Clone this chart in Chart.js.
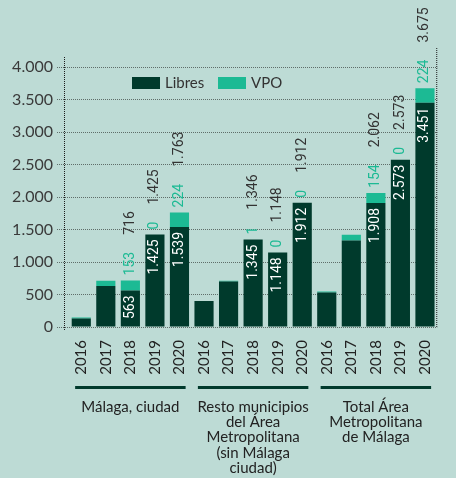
<!DOCTYPE html>
<html>
<head>
<meta charset="utf-8">
<script src="https://cdn.jsdelivr.net/npm/chart.js@4.4.0/dist/chart.umd.min.js"></script>
<style>
  html, body { margin: 0; background: #bddbd5; }
  canvas { display: block; }
</style>
</head>
<body>
<canvas id="chartViv" width="456" height="478"></canvas>
<script>
const years = ['2016', '2017', '2018', '2019', '2020']
const groups = [
  ['Málaga, ciudad'],
  ['Resto municipios', 'del Área', 'Metropolitana', '(sin Málaga', 'ciudad)'],
  ['Total Área', 'Metropolitana', 'de Málaga'],
]
const categories = groups.flatMap(() => years)
const libres = [130, 630, 563, 1425, 1539,   400, 700, 1345, 1148, 1912,   530, 1330, 1908, 2573, 3451]
const vpo    = [ 15,  80, 153,    0,  224,     0,  10,    1,    0,    0,    15,   90,  154,    0,  224]
const labeledYears = ['2018', '2019', '2020']
const seriesNames = ['Libres', 'VPO']

const C_LIB = '#003a2c'
const C_VPO = '#1cba94'
const C_TXT = '#333333'
const fmt = n => String(n).replace(/\B(?=(\d{3})+(?!\d))/g, '.')

function rotText(ctx, x, y, txt, align, color) {
  ctx.save()
  ctx.translate(x, y)
  ctx.rotate(-Math.PI / 2)
  ctx.textAlign = align
  ctx.textBaseline = 'middle'
  ctx.fillStyle = color
  ctx.fillText(txt, 0, 0)
  ctx.restore()
}

const extras = {
  id: 'extras',
  beforeDatasetsDraw(chart) {
    const { ctx, chartArea: a } = chart
    ctx.save()
    ctx.strokeStyle = '#1a1a1a'; ctx.lineWidth = 1; ctx.setLineDash([1, 1])
    ctx.beginPath(); ctx.moveTo(a.left - 4.5, a.top - 10); ctx.lineTo(a.left - 4.5, a.bottom + 3); ctx.stroke()
    ctx.beginPath(); ctx.moveTo(a.right - 0.5, a.top - 19); ctx.lineTo(a.right - 0.5, a.bottom); ctx.stroke()
    ctx.restore()
  },
  afterDatasetsDraw(chart) {
    const { ctx, chartArea: a } = chart
    const xs = chart.scales.x, ys = chart.scales.y

    // etiquetas de valores
    ctx.save()
    ctx.font = '14px Roboto'
    categories.forEach((yr, i) => {
      if (!labeledYears.includes(yr)) return
      const x = xs.getPixelForValue(i)
      const yLib = ys.getPixelForValue(libres[i])
      const yTot = ys.getPixelForValue(libres[i] + vpo[i])
      rotText(ctx, x, yLib + 5, fmt(libres[i]), 'right', '#ffffff')
      const vw = ctx.measureText(fmt(vpo[i])).width
      rotText(ctx, x, yTot - 5, fmt(vpo[i]), 'left', C_VPO)
      rotText(ctx, x, yTot - 5 - vw - 17, fmt(libres[i] + vpo[i]), 'left', C_TXT)
    })
    ctx.restore()

    // líneas de grupo
    const w = xs.getPixelForValue(1) - xs.getPixelForValue(0)
    ctx.save()
    ctx.fillStyle = C_LIB
    groups.forEach((g, gi) => {
      const x0 = xs.getPixelForValue(gi * 5) - w * 0.25
      const x1 = xs.getPixelForValue(gi * 5 + 4) + w * 0.25
      ctx.fillRect(x0, xs.bottom - 3, x1 - x0, 3)
    })
    ctx.restore()

    // leyenda
    ctx.save()
    ctx.font = '15px Lato'
    ctx.textBaseline = 'middle'
    let lx = a.left + 63
    const ly = a.top + 10
    ;[C_LIB, C_VPO].forEach((col, k) => {
      ctx.fillStyle = col
      ctx.fillRect(lx, ly, 28, 12)
      ctx.fillStyle = C_TXT
      ctx.fillText(seriesNames[k], lx + 33, ly + 6.5)
      lx += 86
    })
    ctx.restore()
  }
}

new Chart(document.getElementById('chartViv'), {
  type: 'bar',
  data: {
    labels: categories,
    datasets: [
      { label: seriesNames[0], data: libres, backgroundColor: C_LIB, borderWidth: 0 },
      { label: seriesNames[1], data: vpo,    backgroundColor: C_VPO, borderWidth: 0 },
    ]
  },
  options: {
    responsive: false, animation: false,
    layout: { padding: { top: 67, right: 1, left: 0, bottom: 0 } },
    datasets: { bar: { categoryPercentage: 1, barPercentage: 0.78 } },
    plugins: { legend: { display: false }, tooltip: { enabled: false } },
    scales: {
      x: {
        stacked: true,
        grid: { display: false, drawTicks: false },
        border: { display: false },
        ticks: { autoSkip: false, minRotation: 90, maxRotation: 90, padding: 13,
                 font: { family: 'Lato', size: 15 }, color: '#222' },
        afterFit: s => { s.height = 62 }
      },
      x2: {
        type: 'category', position: 'bottom', labels: groups, offset: true,
        grid: { display: false, drawTicks: false },
        border: { display: false },
        ticks: { autoSkip: false, maxRotation: 0, padding: 10,
                 font: { family: 'Lato', size: 15, lineHeight: 1.03 }, color: '#222' },
        afterFit: s => { s.height = 89 }
      },
      y: {
        stacked: true, min: 0, max: 4000,
        grid: { color: '#5f6e6a', tickLength: 12, tickColor: '#5f6e6a', tickBorderDash: [1, 1] },
        border: { display: false, dash: [1, 1] },
        ticks: { stepSize: 500, padding: 4, callback: v => fmt(v),
                 font: { family: 'Lato', size: 16 }, color: '#3a3a3a' },
        afterFit: s => { s.width = 69 }
      }
    }
  },
  plugins: [extras]
})
</script>
</body>
</html>
